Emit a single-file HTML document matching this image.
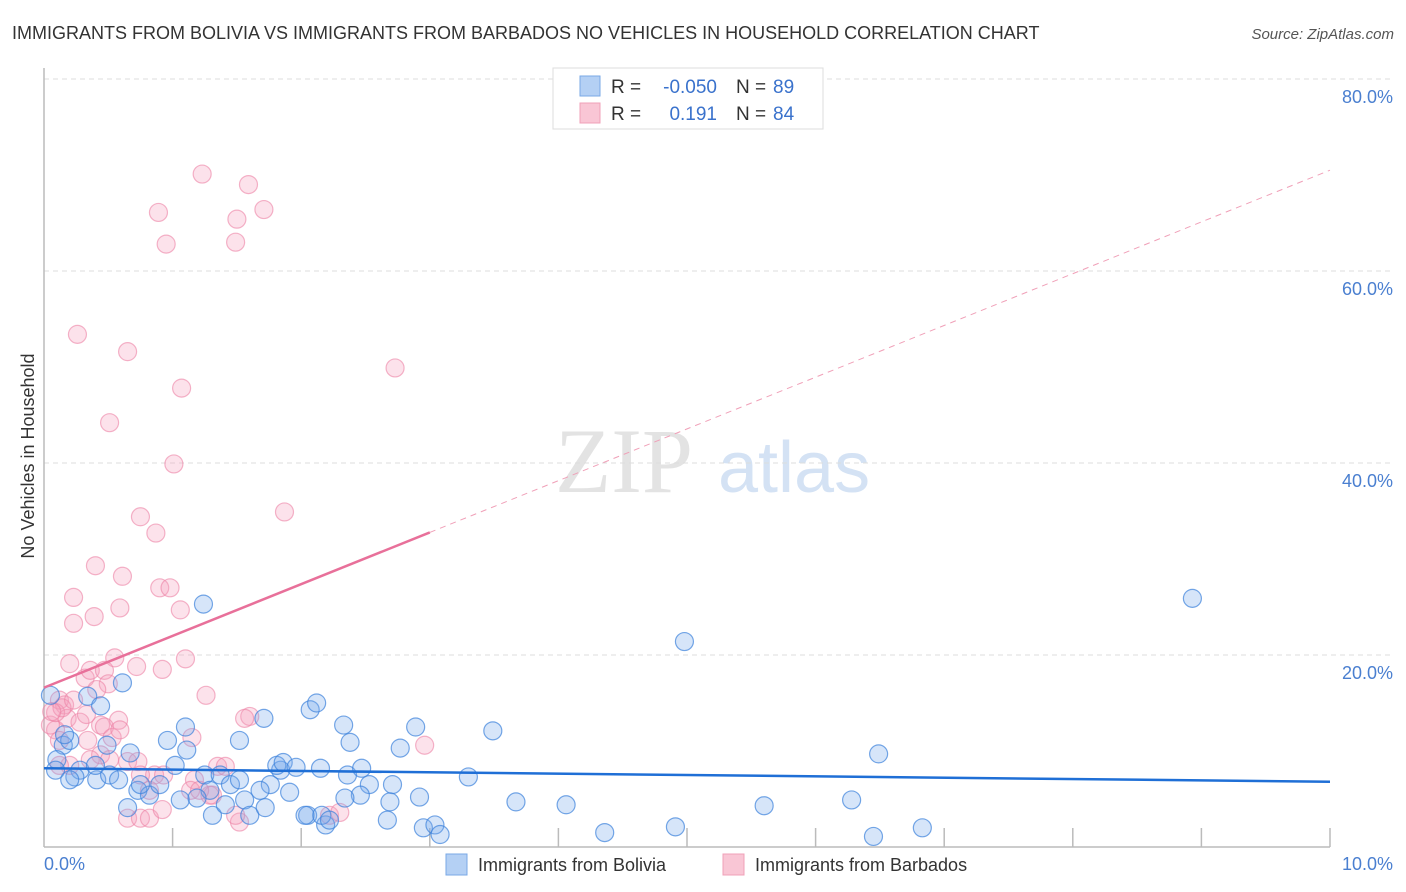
<!DOCTYPE html>
<html><head><meta charset="utf-8"><style>
body{margin:0;background:#fff;font-family:"Liberation Sans",sans-serif;}
svg{display:block}
</style></head><body>
<svg id="chart" width="1406" height="892" xmlns="http://www.w3.org/2000/svg" font-family="Liberation Sans, sans-serif">
<text x="12" y="39" font-size="18" fill="#333">IMMIGRANTS FROM BOLIVIA VS IMMIGRANTS FROM BARBADOS NO VEHICLES IN HOUSEHOLD CORRELATION CHART</text>
<text x="1394" y="39" font-size="15" fill="#555" font-style="italic" text-anchor="end">Source: ZipAtlas.com</text>
<text transform="translate(34,456) rotate(-90)" font-size="18" fill="#333" text-anchor="middle">No Vehicles in Household</text>
<g>
<text x="555" y="492" font-size="92" font-family="Liberation Serif, serif" fill="#d8d8d8" opacity="0.7">ZIP</text>
<text x="718" y="492" font-size="72" fill="#b8d0ee" opacity="0.6">atlas</text>
</g>
<g id="grid"></g><g id="axes"></g><g id="marks"></g><g id="lines"></g>
<g>
<rect x="553" y="68" width="270" height="61" fill="#fff" stroke="#ddd"/>
<rect x="580" y="76" width="20" height="20" fill="#b4d0f4" stroke="#7aa8e6"/>
<rect x="580" y="103" width="20" height="20" fill="#f9c6d5" stroke="#f0a0b8"/>
<text x="611" y="93" font-size="19" fill="#333">R =</text>
<text x="717" y="93" font-size="19" fill="#3a72cc" text-anchor="end">-0.050</text>
<text x="736" y="93" font-size="19" fill="#333">N =</text>
<text x="773" y="93" font-size="19" fill="#3a72cc">89</text>
<text x="611" y="120" font-size="19" fill="#333">R =</text>
<text x="717" y="120" font-size="19" fill="#3a72cc" text-anchor="end">0.191</text>
<text x="736" y="120" font-size="19" fill="#333">N =</text>
<text x="773" y="120" font-size="19" fill="#3a72cc">84</text>
</g>
<g>
<rect x="446" y="854" width="21" height="21" fill="#b4d0f4" stroke="#7aa8e6"/>
<text x="478" y="871" font-size="18" fill="#333">Immigrants from Bolivia</text>
<rect x="723" y="854" width="21" height="21" fill="#f9c6d5" stroke="#f0a0b8"/>
<text x="755" y="871" font-size="18" fill="#333">Immigrants from Barbados</text>
</g>
</svg>
<script>
const yTicks=[20,40,60,80];
const yTickLabels=["20.0%","40.0%","60.0%","80.0%"];
const xTicks=[1,2,3,4,5,6,7,8,9,10];
const xEndLabels=["0.0%","10.0%"];
const boliviaX=[0.05,0.34,0.44,1.24,0.61,0.15,0.20,0.10,0.28,0.41,0.51,0.67,0.49,0.73,0.82,0.90,0.96,1.10,1.02,1.11,1.06,1.25,1.31,1.37,1.45,1.52,1.56,1.41,1.60,1.72,1.71,1.76,1.84,1.81,1.86,1.91,1.96,2.07,2.12,2.05,2.15,2.19,2.33,2.38,2.36,2.47,2.53,2.71,2.69,2.67,2.77,2.89,2.92,2.95,3.04,3.08,3.30,3.49,3.67,4.06,4.36,4.91,4.98,5.60,6.28,6.45,6.49,6.83,8.93,0.65,0.58,0.24,0.09,0.16,0.75,1.29,1.19,2.03,2.16,2.22,0.20,0.40,1.52,1.68,2.46,2.34];
const boliviaY=[15.8,15.7,14.7,25.3,17.1,10.6,11.1,9.1,8.0,7.0,7.5,9.8,10.6,5.9,5.4,6.5,11.1,12.5,8.5,10.1,4.9,7.5,3.3,7.5,6.5,7.0,4.9,4.4,3.3,4.1,13.4,6.5,8.0,8.5,8.8,5.7,8.3,14.3,15.0,3.3,8.2,2.3,12.7,10.9,7.5,8.2,6.5,6.5,4.7,2.8,10.3,12.5,5.2,2.0,2.3,1.3,7.3,12.1,4.7,4.4,1.5,2.1,21.4,4.3,4.9,1.1,9.7,2.0,25.9,4.1,7.0,7.3,8.0,11.7,6.5,5.9,5.1,3.3,3.3,2.8,7.0,8.5,11.1,5.9,5.4,5.1];
const barbadosX=[1.23,1.59,0.89,1.71,1.50,0.95,1.49,0.26,0.65,2.73,1.07,0.51,1.01,1.87,0.75,0.87,0.40,0.61,0.23,0.90,0.98,0.59,0.39,1.06,0.23,1.10,0.20,0.55,0.92,0.72,0.32,0.36,0.47,0.50,1.26,0.12,0.16,0.18,0.09,0.05,0.28,0.44,0.58,0.47,0.34,0.53,0.12,0.59,1.15,1.60,1.56,0.44,0.65,0.73,0.36,0.20,0.12,0.86,0.93,1.35,1.41,1.17,1.14,1.31,0.65,0.75,0.82,0.92,1.29,1.52,2.22,2.30,2.96,1.21,0.09,0.14,0.75,0.51,0.82,1.49,0.33,0.41,0.23,0.06];
const barbadosY=[70.1,69.0,66.1,66.4,65.4,62.8,63.0,53.4,51.6,49.9,47.8,44.2,39.9,34.9,34.4,32.7,29.3,28.2,26.0,27.0,27.0,24.9,24.0,24.7,23.3,19.6,19.1,19.7,18.5,18.8,17.6,18.4,18.4,17.0,15.8,15.3,14.8,13.4,12.2,12.7,13.0,12.7,13.2,12.5,11.1,11.4,11.1,12.2,11.4,13.6,13.4,9.6,8.9,8.9,9.1,8.5,8.5,7.5,7.5,8.4,8.4,7.0,5.9,5.4,3.0,3.0,3.0,3.9,5.4,2.6,3.3,3.6,10.6,5.9,14.0,14.5,7.5,9.1,5.9,3.3,13.8,16.4,15.3,14.1];
const boliviaTrend=[8.2,6.8];
const barbadosTrend=[16.6,70.5];
const barbadosSolidEnd=3.0;

const NS="http://www.w3.org/2000/svg";
const X0=44,X1=1330,Y0=847,Y80=79;
const sx=v=>X0+(X1-X0)*v/10;
const sy=v=>Y0-(Y0-Y80)*v/80;
function mk(tag,attrs,parent){const e=document.createElementNS(NS,tag);for(const k in attrs)e.setAttribute(k,attrs[k]);document.getElementById(parent).appendChild(e);return e;}
yTicks.forEach((t,i)=>{
  const g=mk('line',{x1:X0,x2:1394,y1:sy(t),y2:sy(t),stroke:'#ddd','stroke-dasharray':'5,4'},'grid');
  
  
  const l=mk('text',{x:1393,y:sy(t)+24,'font-size':18,fill:'#4a7fd0','text-anchor':'end'},'grid');
  l.textContent=yTickLabels[i];
  
  
});
const ya=mk('line',{x1:X0,x2:X0,y1:68,y2:Y0,stroke:'#bbb','stroke-width':1.5},'axes');


const xa=mk('line',{x1:X0,x2:X1,y1:Y0,y2:Y0,stroke:'#bbb','stroke-width':1.5},'axes');


xTicks.forEach(t=>{
  const k=mk('line',{x1:sx(t),x2:sx(t),y1:828,y2:Y0,stroke:'#bbb','stroke-width':1.5},'axes');
  
  
});
const l0=mk('text',{x:44,y:870,'font-size':18,fill:'#4a7fd0'},'axes');l0.textContent=xEndLabels[0];


const l1=mk('text',{x:1393,y:870,'font-size':18,fill:'#4a7fd0','text-anchor':'end'},'axes');l1.textContent=xEndLabels[1];


barbadosX.forEach((x,i)=>{
  const c=mk('circle',{cx:sx(x),cy:sy(barbadosY[i]),r:9,fill:'rgba(244,160,188,0.3)',stroke:'rgba(236,130,165,0.6)','stroke-width':1.2},'marks');
  
  
});
boliviaX.forEach((x,i)=>{
  const c=mk('circle',{cx:sx(x),cy:sy(boliviaY[i]),r:9,fill:'rgba(120,170,235,0.3)',stroke:'rgba(60,130,220,0.7)','stroke-width':1.2},'marks');
  
  
});
const bt=mk('line',{x1:sx(0),y1:sy(boliviaTrend[0]),x2:sx(10),y2:sy(boliviaTrend[1]),stroke:'#1f6fd6','stroke-width':2.5},'lines');


const pAt=x=>barbadosTrend[0]+(barbadosTrend[1]-barbadosTrend[0])*x/10;
const pd=mk('line',{x1:sx(barbadosSolidEnd),y1:sy(pAt(barbadosSolidEnd)),x2:sx(10),y2:sy(pAt(10)),stroke:'#f0a0b8','stroke-width':1,'stroke-dasharray':'6,5'},'lines');


const ps=mk('line',{x1:sx(0),y1:sy(pAt(0)),x2:sx(barbadosSolidEnd),y2:sy(pAt(barbadosSolidEnd)),stroke:'#e8709a','stroke-width':2.5},'lines');


</script>
</body></html>
